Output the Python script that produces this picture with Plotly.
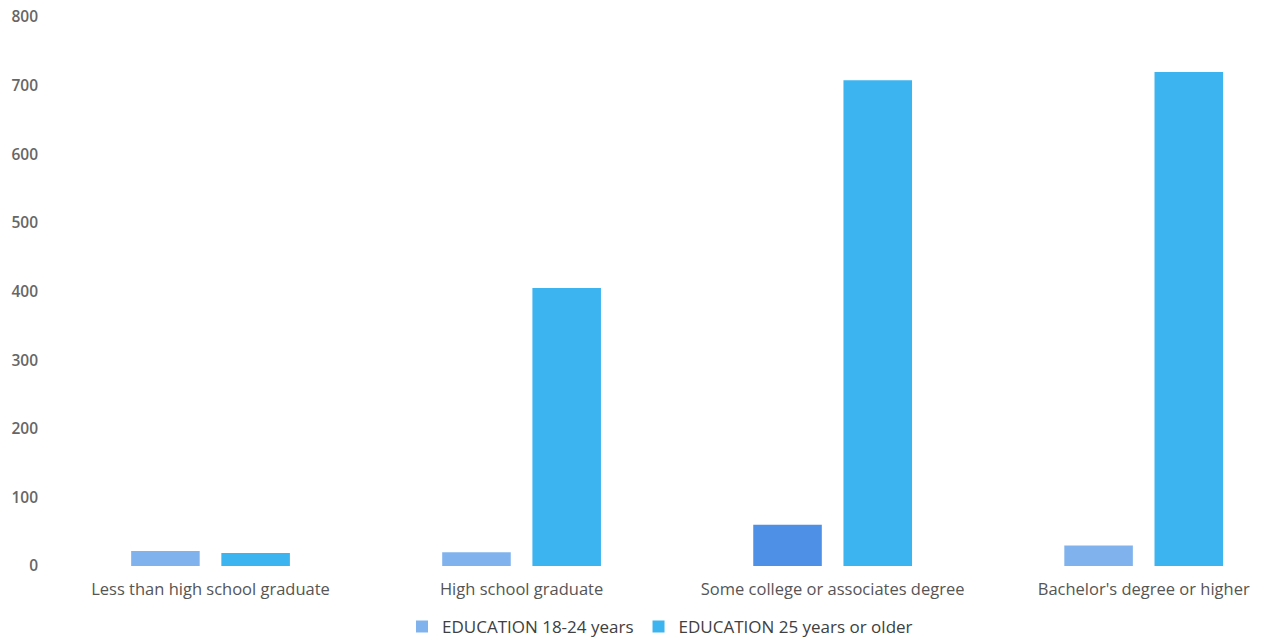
import plotly.graph_objects as go

categories = [
    "Less than high school graduate",
    "High school graduate",
    "Some college or associates degree",
    "Bachelor's degree or higher",
]
ages_18_24 = [22, 20, 60, 30]
ages_25_plus = [19, 405, 708, 720]

colors_18_24 = ["#80b3ee", "#80b3ee", "#4d90e6", "#80b3ee"]
color_25_plus = "#3cb4f0"

font_family = "'Open Sans', Lato, sans-serif"

fig = go.Figure()
fig.add_trace(go.Bar(
    x=categories, y=ages_18_24, name="EDUCATION 18-24 years",
    marker=dict(color=colors_18_24, line=dict(width=0)),
))
fig.add_trace(go.Bar(
    x=categories, y=ages_25_plus, name="EDUCATION 25 years or older",
    marker=dict(color=color_25_plus, line=dict(width=0)),
))

fig.update_layout(
    width=1265, height=639,
    margin=dict(l=55, r=0, t=17, b=73, autoexpand=False),
    paper_bgcolor="white", plot_bgcolor="white",
    barmode="group", bargap=0.42, bargroupgap=0.24,
    font=dict(family=font_family, color="#595959", size=15),
    showlegend=True,
    legend=dict(
        orientation="h", x=0.5, xanchor="center", y=-0.111, yanchor="middle",
        font=dict(size=17, color="#404040", weight=500), itemwidth=30,
    ),
    xaxis=dict(
        range=[-0.5, 3.39], showgrid=False, showline=False, zeroline=False,
        ticks="", ticklabelstandoff=11,
        tickfont=dict(size=16.5, color="#555555", weight=500),
    ),
    yaxis=dict(
        range=[0, 800], dtick=100, showgrid=False, showline=False, zeroline=False,
        ticks="", ticklabelstandoff=16,
        tickfont=dict(size=15.5, color="#666666", weight=600),
    ),
)

fig.write_html("out.html")
